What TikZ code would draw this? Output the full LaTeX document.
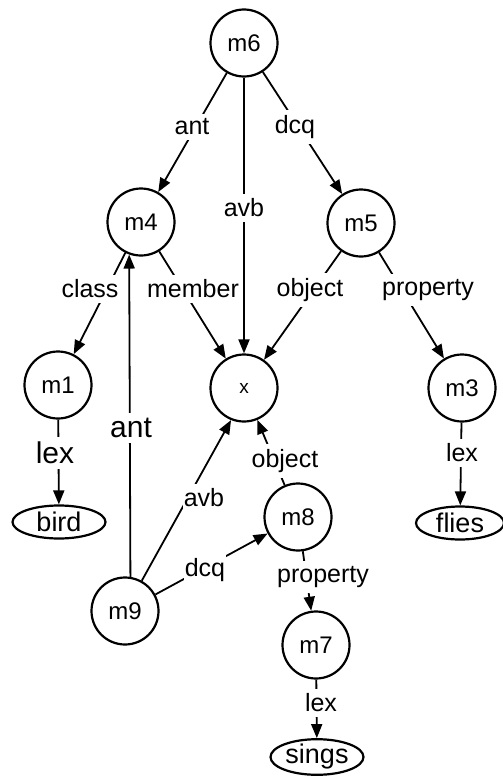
\documentclass[tikz,border=0pt]{standalone}
\usepackage{fontspec}
\setmainfont{Liberation Sans}
\usetikzlibrary{shapes.geometric,arrows.meta}
\begin{document}
\begin{tikzpicture}[x=1pt,y=-1pt,
  mnode/.style={circle,draw,line width=2.2pt,minimum size=67pt,inner sep=0pt,font=\fontsize{24}{28}\selectfont},
  leaf/.style={ellipse,draw,line width=2.2pt,minimum width=93pt,minimum height=33pt,inner sep=0pt,font=\fontsize{27}{30}\selectfont},
  arc/.style={line width=1.8pt,-{Triangle[length=14pt,width=11pt]}},
  lab/.style={fill=white,inner xsep=1.2pt,inner ysep=5pt,font=\fontsize{25}{28}\selectfont},
  biglab/.style={fill=white,inner xsep=1.2pt,inner ysep=5pt,font=\fontsize{30}{33}\selectfont}]
\useasboundingbox (0,0) rectangle (503,779);
% nodes
\node[mnode] (m6) at (244,43) {m6};
\node[mnode] (m4) at (141,222) {m4};
\node[mnode] (m5) at (361,223) {m5};
\node[mnode] (m1) at (58,385) {m1};
\node[mnode,font=\fontsize{19}{22}\selectfont] (x) at (244,388) {x};
\node[mnode] (m3) at (462,388) {m3};
\node[mnode] (m8) at (298,517) {m8};
\node[mnode] (m9) at (125,611) {m9};
\node[mnode] (m7) at (316,645) {m7};
\node[leaf] (bird) at (59,522) {bird};
\node[leaf,minimum width=88pt] (flies) at (460,523) {flies};
\node[leaf] (sings) at (317,757) {sings};
% connectors
\draw[arc] (m6) -- (m4);
\draw[arc] (m6) -- (m5);
\draw[arc] (m6) -- (x);
\draw[arc] (m4) -- (m1);
\draw[arc] (m4) -- (x);
\draw[arc] (m5) -- (x);
\draw[arc] (m5) -- (m3);
\draw[arc] (m1) -- (bird);
\draw[arc] (m3) -- (flies);
\draw[arc] (m9.81) -- (m4.250);
\draw[arc] (m9.61) -- (x.248);
\draw[arc] (m9) -- (m8);
\draw[arc] (m8) -- (x);
\draw[arc] (m8) -- (m7);
\draw[arc] (m7) -- (sings);
% labels
\node[lab] (l1) at (192,127) {ant};
\node[lab] (l2) at (295,127) {dcq};
\node[lab] (l3) at (244,208) {avb};
\node[lab] (l4) at (90,289) {class};
\node[lab] (l5) at (193,289) {member};
\node[lab] (l6) at (310,290) {object};
\node[lab] (l7) at (428,290) {property};
\node[biglab] (l8) at (55,453) {lex};
\node[biglab] (l9) at (131,428) {ant};
\node[lab] (l10) at (462,453) {lex};
\node[lab] (l11) at (285,461) {object};
\node[lab] (l12) at (204,498) {avb};
\node[lab] (l13) at (205,570) {dcq};
\node[lab] (l14) at (323,577) {property};
\node[lab] (l15) at (321,703) {lex};
\end{tikzpicture}
\end{document}
